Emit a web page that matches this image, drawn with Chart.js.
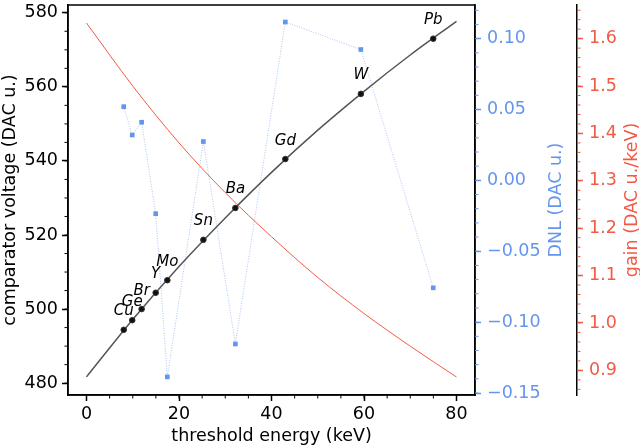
<!DOCTYPE html>
<html>
<head>
<meta charset="utf-8">
<script src="https://cdn.jsdelivr.net/npm/chart.js@4.4.1/dist/chart.umd.min.js"></script>
<style>
  html, body { margin: 0; padding: 0; background: #fff; }
  canvas { display: block; }
</style>
</head>
<body>
<canvas id="myChart" width="640" height="447"></canvas>
<script>
// Calibration lines (element, threshold energy in keV)
const elements = ['Cu', 'Ge', 'Br', 'Y', 'Mo', 'Sn', 'Ba', 'Gd', 'W', 'Pb'];
const energies = [8.05, 9.89, 11.92, 14.96, 17.48, 25.27, 32.19, 42.99, 59.32, 74.97];
const voltages = [494.4, 497.0, 500.0, 504.4, 507.8, 518.7, 527.3, 540.5, 558.1, 573.0];
const dnl = [0.052, 0.032, 0.041, -0.0235, -0.1386, 0.0274, -0.1154, 0.1117, 0.0923, -0.0758];

// Fit curve and gain, every 10 keV
const fitEnergies = [0, 10, 20, 30, 40, 50, 60, 70, 80];
const fitVoltages = [481.7, 497.2, 511.5, 524.6, 536.9, 548.3, 558.8, 568.6, 577.7];
const gainValues = [1.633, 1.500, 1.380, 1.275, 1.182, 1.096, 1.020, 0.951, 0.886];

// Tick labels
const xTicks = [0, 20, 40, 60, 80];
const voltTicks = [480, 500, 520, 540, 560, 580];
const dnlTicks = [-0.15, -0.10, -0.05, 0.00, 0.05, 0.10];
const gainTicks = [0.9, 1.0, 1.1, 1.2, 1.3, 1.4, 1.5, 1.6];

const BLUE = '#6495ed';
const RED = '#f25a45';
const FONT = 'DejaVu Sans';

const minus = s => s.replace('-', '\u2212');

// fixed axis sizes so the plot box lands where it should
function fixSize(size) {
  return function (scale) {
    if (scale.isHorizontal()) scale.height = size; else scale.width = size;
    scale.paddingTop = 0; scale.paddingBottom = 0;
    scale.paddingLeft = 0; scale.paddingRight = 0;
  };
}
function setTicks(list) {
  return function (scale) { scale.ticks = list.map(v => ({ value: v })); };
}

// minor ticks, frame, right-hand titles, element labels
const extras = {
  id: 'extras',
  afterDatasetsDraw(chart) {
    const ctx = chart.ctx;
    const meta = chart.getDatasetMeta(0);
    ctx.save();
    ctx.fillStyle = '#000';
    ctx.font = 'italic 15px ' + FONT;
    ctx.textAlign = 'center';
    ctx.textBaseline = 'alphabetic';
    meta.data.forEach((pt, i) => {
      ctx.fillText(elements[i], pt.x, pt.y - 14.5);
    });
    ctx.restore();
  },
  afterDraw(chart) {
    const ctx = chart.ctx;
    const a = chart.chartArea;
    const s = chart.scales;
    ctx.save();
    ctx.strokeStyle = '#000';
    ctx.lineWidth = 1.5;
    ctx.strokeRect(a.left, a.top, a.right - a.left, a.bottom - a.top);

    function minors(scale, from, to, step, color) {
      ctx.strokeStyle = color;
      ctx.lineWidth = 1;
      ctx.beginPath();
      for (let v = from; v <= to + step / 2; v += step) {
        const p = scale.getPixelForValue(v);
        if (scale.isHorizontal()) {
          if (p < a.left || p > a.right) continue;
          ctx.moveTo(p, scale.top); ctx.lineTo(p, scale.top + 3.5);
        } else {
          if (p < a.top || p > a.bottom) continue;
          const edge = scale.position === 'left' ? scale.right : scale.left;
          const dir = scale.position === 'left' ? -1 : 1;
          ctx.moveTo(edge, p); ctx.lineTo(edge + dir * 3.5, p);
        }
      }
      ctx.stroke();
    }
    minors(s.x, -5, 85, 5, '#000');
    minors(s.y, 475, 585, 5, '#000');
    minors(s.dnl, -0.16, 0.13, 0.01, BLUE);
    minors(s.gain, 0.84, 1.68, 0.02, RED);

    ctx.font = '17.5px ' + FONT;
    ctx.textAlign = 'center';
    ctx.textBaseline = 'alphabetic';
    const midY = (a.top + a.bottom) / 2;
    ctx.translate(561, midY);
    ctx.rotate(-Math.PI / 2);
    ctx.fillStyle = BLUE;
    ctx.fillText('DNL (DAC u.)', 0, 0);
    ctx.rotate(Math.PI / 2);
    ctx.translate(637 - 561, 0);
    ctx.rotate(-Math.PI / 2);
    ctx.fillStyle = RED;
    ctx.fillText('gain (DAC u./keV)', 0, 0);
    ctx.restore();
  }
};

const ctx = document.getElementById('myChart').getContext('2d');

const tickFont = { family: FONT, size: 17.5 };
const titleFont = { family: FONT, size: 17.5 };

const lineChart = new Chart(ctx, {
  type: 'scatter',
  data: {
    datasets: [
      {
        label: 'measured',
        data: energies.map((e, i) => ({ x: e, y: voltages[i] })),
        yAxisID: 'y',
        pointRadius: 2.8,
        pointBackgroundColor: '#111',
        pointBorderColor: '#333',
        pointBorderWidth: 1,
        showLine: false,
        order: 0
      },
      {
        label: 'fit',
        data: fitEnergies.map((e, i) => ({ x: e, y: fitVoltages[i] })),
        yAxisID: 'y',
        showLine: true,
        borderColor: '#555',
        borderWidth: 1.5,
        pointRadius: 0,
        cubicInterpolationMode: 'monotone',
        order: 1
      },
      {
        label: 'gain',
        data: fitEnergies.map((e, i) => ({ x: e, y: gainValues[i] })),
        yAxisID: 'gain',
        showLine: true,
        borderColor: RED,
        borderWidth: 1,
        pointRadius: 0,
        cubicInterpolationMode: 'monotone',
        order: 2
      },
      {
        label: 'DNL',
        data: energies.map((e, i) => ({ x: e, y: dnl[i] })),
        yAxisID: 'dnl',
        showLine: true,
        borderColor: 'rgba(100,149,237,0.55)',
        borderWidth: 1,
        borderDash: [1, 1.5],
        pointStyle: 'rect',
        pointRadius: 3.3,
        pointBackgroundColor: BLUE,
        pointBorderWidth: 0,
        order: 3
      }
    ]
  },
  options: {
    responsive: false,
    animation: false,
    events: [],
    layout: { padding: { top: 1, left: 0, right: 0, bottom: 0 } },
    plugins: { legend: { display: false }, tooltip: { enabled: false } },
    scales: {
      x: {
        type: 'linear',
        position: 'bottom',
        min: -4, max: 84,
        afterBuildTicks: setTicks(xTicks),
        afterFit: fixSize(52),
        ticks: { color: '#000', font: tickFont, padding: 3, maxRotation: 0 },
        grid: { drawOnChartArea: false, tickLength: 6, tickWidth: 1.5, tickColor: '#000' },
        border: { color: '#000', width: 1.5 },
        title: { display: true, text: 'threshold energy (keV)', color: '#000', font: titleFont, padding: 0 }
      },
      y: {
        type: 'linear',
        position: 'left',
        min: 476.8, max: 582.1,
        afterBuildTicks: setTicks(voltTicks),
        afterFit: fixSize(68),
        ticks: { color: '#000', font: tickFont, padding: 4 },
        grid: { drawOnChartArea: false, tickLength: 6, tickWidth: 1.5, tickColor: '#000' },
        border: { color: '#000', width: 1.5 },
        title: { display: true, text: 'comparator voltage (DAC u.)', color: '#000', font: titleFont, padding: 0 }
      },
      dnl: {
        type: 'linear',
        position: 'right',
        weight: 0,
        min: -0.1514, max: 0.1237,
        afterBuildTicks: setTicks(dnlTicks),
        afterFit: fixSize(102),
        ticks: { color: BLUE, font: tickFont, padding: 6, callback: v => minus(v.toFixed(2)) },
        grid: { drawOnChartArea: false, tickLength: 6, tickWidth: 1.5, tickColor: BLUE },
        border: { color: '#000', width: 1.5 }
      },
      gain: {
        type: 'linear',
        position: 'right',
        weight: 1,
        min: 0.848, max: 1.671,
        afterBuildTicks: setTicks(gainTicks),
        afterFit: fixSize(63),
        ticks: { color: RED, font: tickFont, padding: 6, callback: v => v.toFixed(1) },
        grid: { drawOnChartArea: false, tickLength: 6, tickWidth: 1.5, tickColor: RED },
        border: { color: '#000', width: 1.5 }
      }
    }
  },
  plugins: [extras]
});
</script>
</body>
</html>
